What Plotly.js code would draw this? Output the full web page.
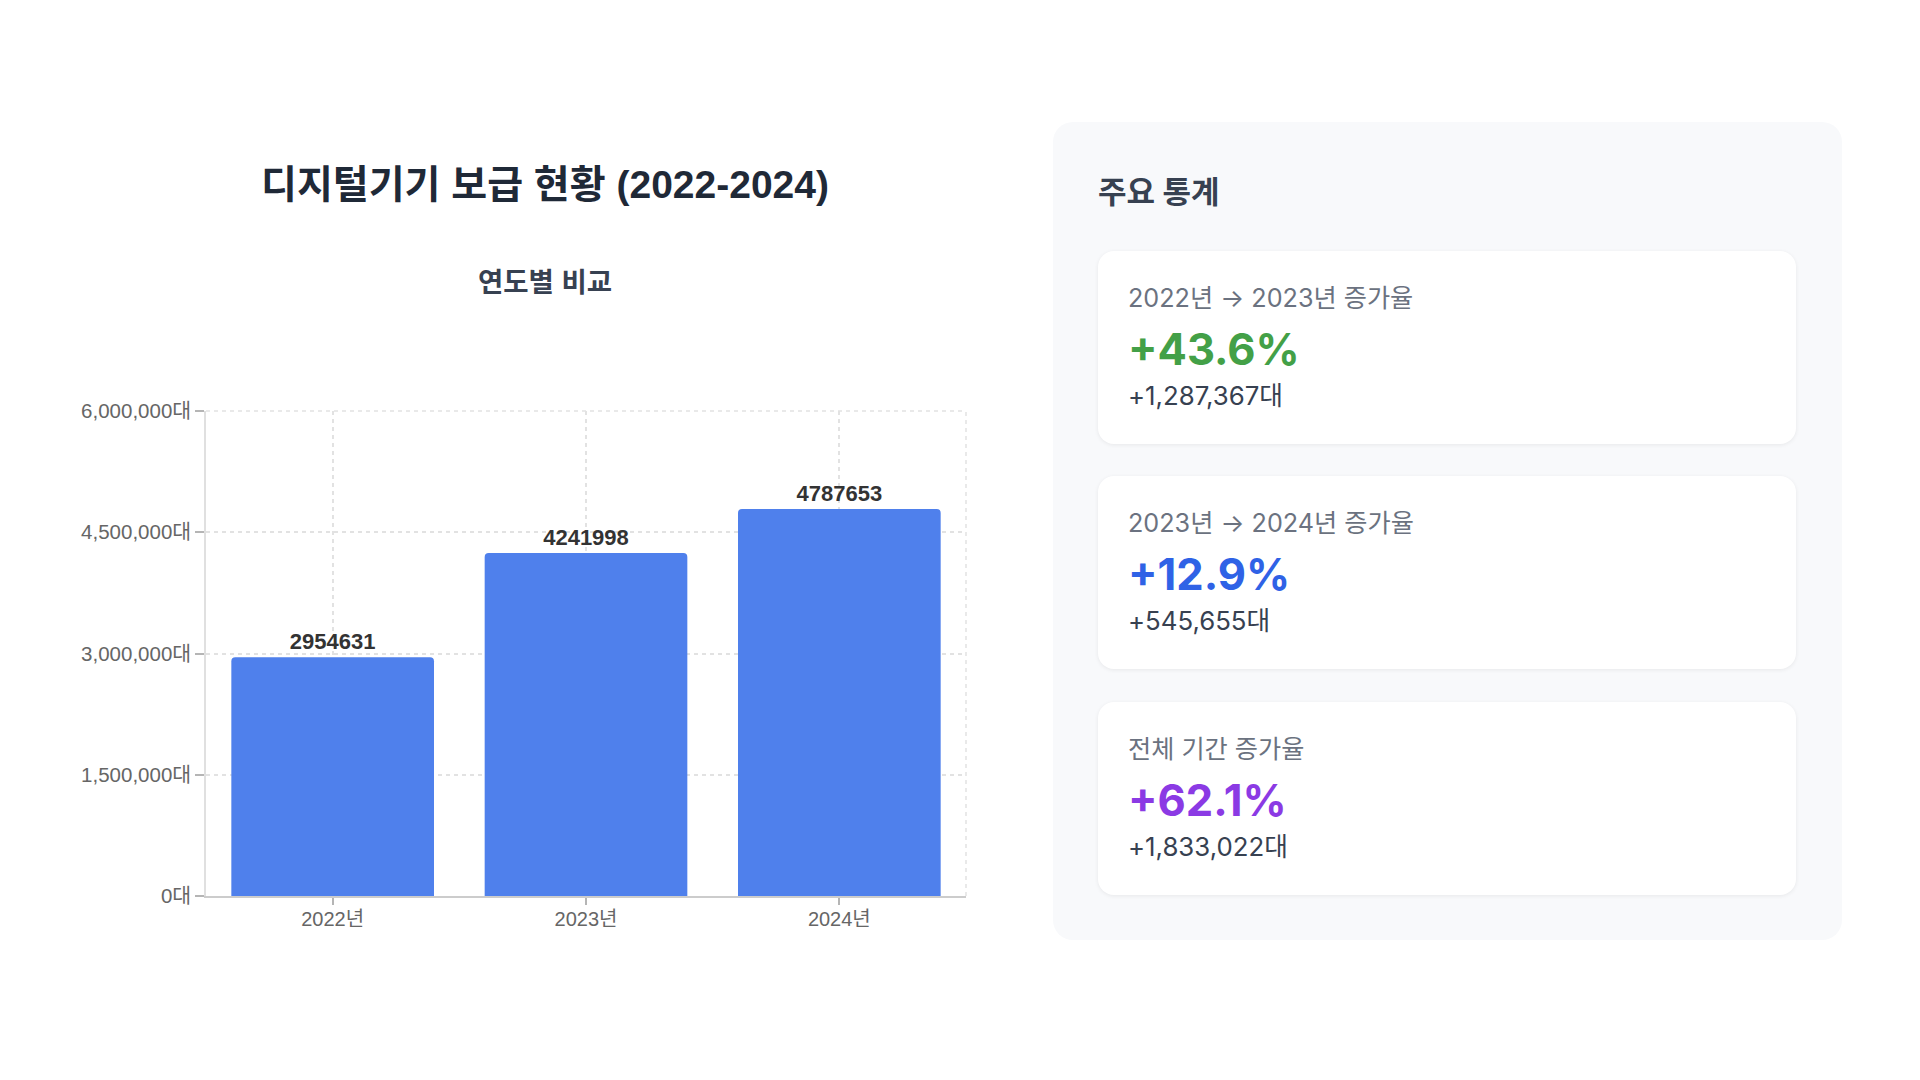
<!DOCTYPE html>
<html>
<head>
<meta charset="utf-8">
<script src="https://cdn.plot.ly/plotly-3.0.1.min.js"></script>
<style>
  html, body { margin: 0; padding: 0; background: #ffffff; width: 1920px; height: 1080px; overflow: hidden; }
  #chart { position: absolute; left: 0; top: 0; width: 1040px; height: 1080px; }
  #panel { position: absolute; left: 1053px; top: 122px; width: 789px; height: 818px; background: #f8f9fb; border-radius: 20px; }
  #panelTitle { position: absolute; left: 1098px; top: 172px; height: 40px; line-height: 40px; font-family: Inter, "Noto Sans CJK KR", sans-serif; font-size: 31px; font-weight: 700; color: #374151; }
  .card { position: absolute; left: 1098px; width: 698px; height: 193px; background: #ffffff; border-radius: 16px; box-shadow: 0 1px 4px rgba(0,0,0,0.07); }
  .lbl { position: absolute; left: 30px; top: 31px; height: 32px; line-height: 32px; font-family: Inter, "Noto Sans CJK KR", sans-serif; font-size: 25.2px; color: #6b7280; white-space: nowrap; }
  .rate { position: absolute; left: 30px; top: 72px; height: 52px; line-height: 52px; font-family: Inter, "Noto Sans CJK KR", sans-serif; font-size: 43.5px; font-weight: 700; white-space: nowrap; }
  .diff { position: absolute; left: 30px; top: 129px; height: 32px; line-height: 32px; font-family: Inter, "Noto Sans CJK KR", sans-serif; font-size: 25.8px; color: #374151; white-space: nowrap; }
</style>
</head>
<body>
<div id="chart"></div>
<div id="panel"></div>
<div id="panelTitle"></div>
<div id="cards"></div>
<script>
// ---- data ----
const chartTitle = '디지털기기 보급 현황 (2022-2024)';
const chartSubtitle = '연도별 비교';
const years = ['2022년', '2023년', '2024년'];
const units = [2954631, 4241998, 4787653];
const yTickSuffix = '대';

const panelTitle = '주요 통계';
const statLabels = ['2022년 → 2023년 증가율', '2023년 → 2024년 증가율', '전체 기간 증가율'];
const statRates = ['+43.6%', '+12.9%', '+62.1%'];
const statDiffs = ['+1,287,367대', '+545,655대', '+1,833,022대'];

// ---- styles ----
const statColors = ['#43a047', '#2f62e6', '#8b3ae4'];
const cardTops = [251, 476, 702];
const latin = '"Liberation Sans", "Noto Sans CJK KR", sans-serif';

const trace = {
  type: 'bar',
  x: years,
  y: units,
  text: units.map(v => String(v)),
  textposition: 'outside',
  textfont: { family: latin, size: 22, color: '#333333', weight: 'bold' },
  cliponaxis: false,
  marker: { color: '#4f80ec', cornerradius: 4 },
  hoverinfo: 'x+y'
};

const gridColor = '#e2e2e2';
const gridDash = '4px,4px';
const layout = {
  width: 1040,
  height: 1080,
  paper_bgcolor: '#ffffff',
  plot_bgcolor: '#ffffff',
  margin: { l: 206, r: 74, t: 411, b: 184, pad: 0 },
  showlegend: false,
  bargap: 0.2,
  title: {
    text: chartTitle,
    font: { family: latin, size: 39, weight: 'bold', color: '#1f2937' },
    x: 545 / 1040, xanchor: 'center', xref: 'container',
    y: 1 - 184 / 1080, yanchor: 'middle', yref: 'container'
  },
  annotations: [{
    text: chartSubtitle,
    xref: 'paper', yref: 'paper',
    x: (545 - 206) / 760, y: (896 - 282) / 485,
    xanchor: 'center', yanchor: 'middle',
    showarrow: false,
    font: { family: latin, size: 27.5, weight: 'bold', color: '#374151' }
  }],
  xaxis: {
    type: 'category',
    showgrid: true, gridcolor: gridColor, griddash: gridDash, gridwidth: 1.5,
    showline: true, linecolor: '#cccccc', linewidth: 1.5,
    ticks: 'outside', ticklen: 7, tickcolor: '#b5b5b5', tickwidth: 1.5,
    ticklabelstandoff: -3,
    tickfont: { family: latin, size: 20, color: '#666666' },
    zeroline: false,
    fixedrange: true
  },
  yaxis: {
    range: [0, 6000000],
    tick0: 0, dtick: 1500000,
    tickformat: ',d',
    ticksuffix: yTickSuffix,
    showgrid: true, gridcolor: gridColor, griddash: gridDash, gridwidth: 1.5,
    showline: true, linecolor: '#e0e0e0', linewidth: 1.5,
    ticks: 'outside', ticklen: 9, tickcolor: '#b5b5b5', tickwidth: 1.5,
    tickfont: { family: latin, size: 20.5, color: '#666666' },
    zeroline: false,
    fixedrange: true
  },
  shapes: [{
    type: 'line', xref: 'paper', yref: 'paper', x0: 1, x1: 1, y0: 0, y1: 1,
    line: { color: gridColor, width: 1.5, dash: gridDash }, layer: 'below'
  }, {
    type: 'line', xref: 'paper', yref: 'paper', x0: 0, x1: 1, y0: 1, y1: 1,
    line: { color: gridColor, width: 1.5, dash: gridDash }, layer: 'below'
  }]
};

Plotly.newPlot('chart', [trace], layout, { displayModeBar: false });

// ---- stats panel ----
document.getElementById('panelTitle').textContent = panelTitle;
const cardsEl = document.getElementById('cards');
statLabels.forEach((lab, i) => {
  const card = document.createElement('div');
  card.className = 'card';
  card.style.top = cardTops[i] + 'px';
  const l = document.createElement('div'); l.className = 'lbl'; l.textContent = lab;
  const r = document.createElement('div'); r.className = 'rate'; r.textContent = statRates[i]; r.style.color = statColors[i];
  const d = document.createElement('div'); d.className = 'diff'; d.textContent = statDiffs[i];
  card.appendChild(l); card.appendChild(r); card.appendChild(d);
  cardsEl.appendChild(card);
});
</script>
</body>
</html>
